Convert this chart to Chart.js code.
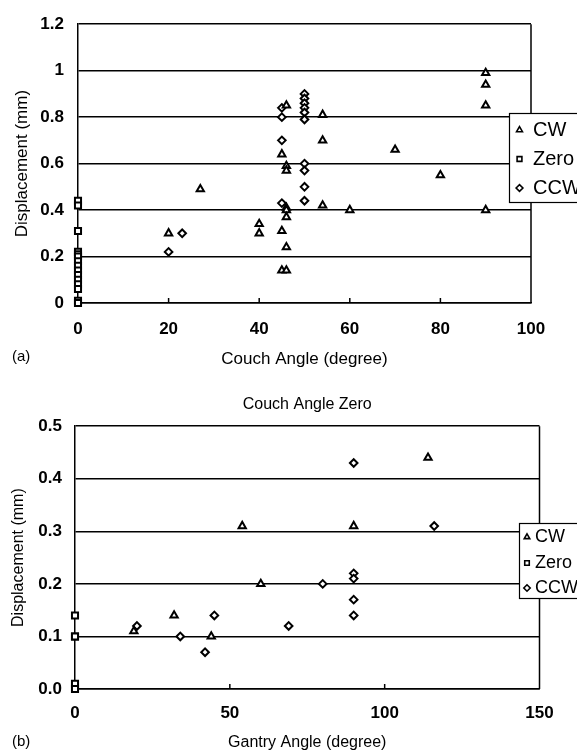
<!DOCTYPE html>
<html><head><meta charset="utf-8">
<script src="https://cdn.jsdelivr.net/npm/chart.js@4.4.1/dist/chart.umd.min.js"></script>
<style>
html,body{margin:0;padding:0;background:#fff;overflow:hidden;}
#ca{position:absolute;left:0;top:0;}
#cb{position:absolute;left:0;top:375px;}
</style></head><body>
<canvas id="ca" width="577" height="375"></canvas>
<canvas id="cb" width="577" height="381"></canvas>
<script>
// ---------- DATA ----------
const seriesNames = ['CW', 'Zero', 'CCW'];

// Panel (a): Couch angle
const couchCW_x = [20, 27, 40, 40, 45, 45, 45, 46, 46, 46, 46, 46, 46, 46, 46, 54, 54, 54, 60, 70, 80, 90, 90, 90, 90];
const couchCW_y = [0.30, 0.49, 0.34, 0.30, 0.64, 0.31, 0.14, 0.14, 0.85, 0.59, 0.57, 0.41, 0.40, 0.37, 0.24, 0.81, 0.70, 0.42, 0.40, 0.66, 0.55, 0.99, 0.94, 0.85, 0.40];
const couchZero_x = [0, 0, 0, 0, 0, 0, 0, 0, 0, 0, 0, 0, 0, 0, 0];
const couchZero_y = [0.44, 0.42, 0.31, 0.22, 0.21, 0.20, 0.18, 0.16, 0.14, 0.12, 0.10, 0.08, 0.06, 0.01, 0.00];
const couchCCW_x = [20, 23, 45, 45, 45, 45, 50, 50, 50, 50, 50, 50, 50, 50, 50, 50];
const couchCCW_y = [0.22, 0.30, 0.84, 0.80, 0.70, 0.43, 0.90, 0.88, 0.86, 0.84, 0.82, 0.79, 0.60, 0.57, 0.50, 0.44];
const couchXTicks = ['0', '20', '40', '60', '80', '100'];
const couchYTicks = ['0', '0.2', '0.4', '0.6', '0.8', '1', '1.2'];

// Panel (b): Gantry angle, couch angle zero
const gantryCW_x = [19, 32, 44, 54, 60, 90, 114];
const gantryCW_y = [0.11, 0.14, 0.10, 0.31, 0.20, 0.31, 0.44];
const gantryZero_x = [0, 0, 0, 0, 0];
const gantryZero_y = [0.14, 0.10, 0.10, 0.01, 0.00];
const gantryCCW_x = [20, 34, 42, 45, 69, 80, 90, 90, 90, 90, 90, 116];
const gantryCCW_y = [0.12, 0.10, 0.07, 0.14, 0.12, 0.20, 0.43, 0.22, 0.21, 0.17, 0.14, 0.31];
const gantryXTicks = ['0', '50', '100', '150'];
const gantryYTicks = ['0.0', '0.1', '0.2', '0.3', '0.4', '0.5'];

// ---------- helpers ----------
const FONT = "'Liberation Sans', Arial, Helvetica, sans-serif";
const styles = ['triangle', 'rect', 'rectRot'];
const radii = [4.2, 4.3, 3.8];

function pts(xs, ys) { return xs.map((x, i) => ({ x: x, y: ys[i] })); }

function makeDatasets(xsList, ysList) {
  return xsList.map((xs, k) => ({
    label: seriesNames[k],
    data: pts(xs, ysList[k]),
    pointStyle: styles[k],
    pointRadius: radii[k],
    pointBorderWidth: 2,
    pointBorderColor: '#000',
    pointBackgroundColor: '#fff',
    clip: false
  }));
}

function drawMarker(ctx, style, r, x, y) {
  ctx.save();
  ctx.strokeStyle = '#000'; ctx.fillStyle = '#fff'; ctx.lineWidth = 1.6;
  if (window.Chart && Chart.helpers && Chart.helpers.drawPoint) {
    Chart.helpers.drawPoint(ctx, { pointStyle: style, rotation: 0, radius: r, borderWidth: 1.6 }, x, y);
  } else {
    ctx.beginPath();
    if (style === 'triangle') { ctx.moveTo(x, y - r); ctx.lineTo(x + r * 0.87, y + r * 0.5); ctx.lineTo(x - r * 0.87, y + r * 0.5); ctx.closePath(); }
    else if (style === 'rect') { const s = r * 0.707; ctx.rect(x - s, y - s, 2 * s, 2 * s); }
    else { ctx.moveTo(x, y - r); ctx.lineTo(x + r, y); ctx.lineTo(x, y + r); ctx.lineTo(x - r, y); ctx.closePath(); }
    ctx.fill(); ctx.stroke();
  }
  ctx.restore();
}

const decor = {
  id: 'decor',
  afterDraw(chart, args, o) {
    const ctx = chart.ctx, a = chart.chartArea, xs = chart.scales.x;
    ctx.save();
    ctx.strokeStyle = '#000'; ctx.lineWidth = 1.5;
    // right frame line
    ctx.beginPath(); ctx.moveTo(a.right, a.top); ctx.lineTo(a.right, a.bottom); ctx.stroke();
    // inner x tick marks
    xs.ticks.forEach(t => {
      if (t.value > xs.min && t.value < xs.max) {
        const px = xs.getPixelForValue(t.value);
        ctx.beginPath(); ctx.moveTo(px, a.bottom); ctx.lineTo(px, a.bottom - 5); ctx.stroke();
      }
    });
    // panel label
    ctx.fillStyle = '#000'; ctx.textAlign = 'left'; ctx.textBaseline = 'middle';
    ctx.font = o.labelFont;
    ctx.fillText(o.label, o.labelX, o.labelY);
    // legend box
    const L = o.legend;
    ctx.fillStyle = '#fff';
    ctx.fillRect(L.x, L.y, L.w, L.h);
    ctx.lineWidth = 1.2; ctx.strokeStyle = '#000';
    ctx.strokeRect(L.x, L.y, L.w, L.h);
    ctx.font = L.font;
    seriesNames.forEach((name, k) => {
      const yy = L.rows[k];
      drawMarker(ctx, styles[k], L.r, L.mx, yy);
      ctx.fillStyle = '#000';
      ctx.fillText(name, L.tx, yy);
    });
    ctx.restore();
  }
};

function baseOptions(cfg) {
  return {
    responsive: false,
    animation: false,
    devicePixelRatio: 1,
    layout: { padding: cfg.padding },
    plugins: {
      legend: { display: false },
      tooltip: { enabled: false },
      title: cfg.title,
      decor: cfg.decor
    },
    scales: {
      x: {
        type: 'linear', min: cfg.xmin, max: cfg.xmax,
        afterFit: s => { s.height = cfg.xH; },
        grid: { display: false, drawTicks: false },
        border: { display: true, color: '#000', width: 1.5 },
        ticks: {
          stepSize: cfg.xStep, padding: cfg.xPad, color: '#000',
          font: { family: FONT, size: cfg.tickSize, weight: 'bold' },
          maxRotation: 0,
          callback: (v, i) => cfg.xTicks[i]
        },
        title: {
          display: true, text: cfg.xTitle, color: '#000',
          font: { family: FONT, size: cfg.titleSize },
          padding: { top: 0, bottom: cfg.xTitlePad }
        }
      },
      y: {
        type: 'linear', min: cfg.ymin, max: cfg.ymax,
        afterFit: s => { s.width = cfg.yW; },
        grid: { display: true, color: '#000', lineWidth: 1.5, drawTicks: false },
        border: { display: true, color: '#000', width: 1.5 },
        ticks: {
          stepSize: cfg.yStep, padding: cfg.yPad, color: '#000',
          font: { family: FONT, size: cfg.tickSize, weight: 'bold' },
          callback: (v, i) => cfg.yTicks[i]
        },
        title: {
          display: true, text: 'Displacement (mm)', color: '#000',
          font: { family: FONT, size: cfg.titleSize },
          padding: { top: cfg.yTitlePad, bottom: 0 }
        }
      }
    }
  };
}

// ---------- Chart (a) ----------
new Chart(document.getElementById('ca'), {
  type: 'scatter',
  data: { datasets: makeDatasets([couchCW_x, couchZero_x, couchCCW_x], [couchCW_y, couchZero_y, couchCCW_y]) },
  options: baseOptions({
    padding: { top: 21, right: 46, left: 0, bottom: 0 },
    title: { display: false },
    xmin: 0, xmax: 100, xStep: 20, xTicks: couchXTicks,
    ymin: 0, ymax: 1.2, yStep: 0.2, yTicks: couchYTicks,
    xH: 72, yW: 78, xPad: 16, yPad: 14,
    tickSize: 17, titleSize: 17,
    xTitle: 'Couch Angle (degree)', xTitlePad: 5, yTitlePad: 12,
    decor: {
      label: '(a)', labelX: 12, labelY: 357, labelFont: '15px ' + FONT,
      legend: { x: 509.5, y: 113.5, w: 100, h: 89, rows: [130, 159, 188], mx: 519.5, tx: 533, r: 3.4, font: '20px ' + FONT }
    }
  }),
  plugins: [decor]
});

// ---------- Chart (b) ----------
new Chart(document.getElementById('cb'), {
  type: 'scatter',
  data: { datasets: makeDatasets([gantryCW_x, gantryZero_x, gantryCCW_x], [gantryCW_y, gantryZero_y, gantryCCW_y]) },
  options: baseOptions({
    padding: { top: 0, right: 37.5, left: 0, bottom: 0 },
    title: {
      display: true, text: 'Couch Angle Zero', color: '#000', fullSize: false,
      font: { family: FONT, size: 16, weight: 'normal' },
      padding: { top: 20, bottom: 12 }
    },
    xmin: 0, xmax: 150, xStep: 50, xTicks: gantryXTicks,
    ymin: 0, ymax: 0.5, yStep: 0.1, yTicks: gantryYTicks,
    xH: 67, yW: 75, xPad: 14, yPad: 13,
    tickSize: 17, titleSize: 16,
    xTitle: 'Gantry Angle (degree)', xTitlePad: 4, yTitlePad: 9,
    decor: {
      label: '(b)', labelX: 12, labelY: 367, labelFont: '15px ' + FONT,
      legend: { x: 519.5, y: 148.5, w: 100, h: 75, rows: [162, 188, 213], mx: 527, tx: 535, r: 3.2, font: '18px ' + FONT }
    }
  }),
  plugins: [decor]
});
</script>
</body></html>
